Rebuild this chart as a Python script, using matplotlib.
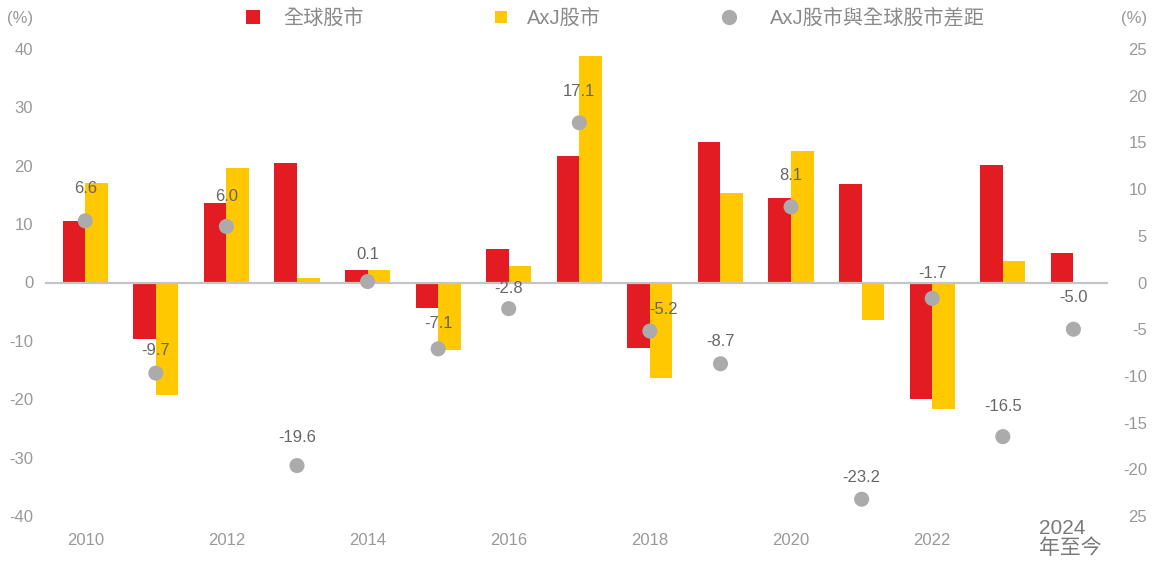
import matplotlib
matplotlib.use("Agg")
import matplotlib.pyplot as plt
from matplotlib.lines import Line2D
import numpy as np

plt.rcParams['font.family'] = ['Liberation Sans', 'Noto Sans CJK TC']

# annual returns (%), 2024 is year to date
years = np.arange(2010, 2025)
global_eq = [10.5, -9.6, 13.6, 20.4, 2.1, -4.4, 5.7, 21.7, -11.2, 24.1, 14.4, 16.9, -19.9, 20.2, 5.1]
axj_eq = [17.1, -19.3, 19.6, 0.8, 2.2, -11.5, 2.9, 38.8, -16.4, 15.4, 22.5, -6.4, -21.6, 3.7, 0.1]
gap = [6.6, -9.7, 6.0, -19.6, 0.1, -7.1, -2.8, 17.1, -5.2, -8.7, 8.1, -23.2, -1.7, -16.5, -5.0]

xtick_years = [2010, 2012, 2014, 2016, 2018, 2020, 2022]
left_ticks = [-40, -30, -20, -10, 0, 10, 20, 30, 40]
right_ticks = [-25, -20, -15, -10, -5, 0, 5, 10, 15, 20, 25]
right_tick_labels = ['25', '-20', '-15', '-10', '-5', '0', '5', '10', '15', '20', '25']

legend_labels = ['全球股市', 'AxJ股市', 'AxJ股市與全球股市差距']

RED = '#E31B23'
YELLOW = '#FFC800'
DOT = '#ABABAB'
TICK = '#999999'

# label offsets in pixels relative to each dot
label_dx = [0, 0, 0, 0, 0, 0, 0, 0, 14, 0, 0, 0, 0, 0, 0]
label_dy = [32, 23, 30, 28, 27, 25, 20, 31, 22, 22, 31, 22, 25, 30, 32]

fig = plt.figure(figsize=(11.56, 5.61), dpi=100)
ax = fig.add_axes([45 / 1156, 45 / 561, 1063 / 1156, 467 / 561])
ax2 = ax.twinx()

w = 0.32
ax.bar(years - w / 2, global_eq, w, color=RED, zorder=2)
ax.bar(years + w / 2, axj_eq, w, color=YELLOW, zorder=2)
ax.axhline(0, color='#C4C4C4', lw=1.6, zorder=3)

ax.set_xlim(2009.43, 2024.49)
ax.set_ylim(-40, 40)
ax2.set_ylim(-25, 25)

ax2.scatter(years, gap, s=118, color=DOT, edgecolors='none', zorder=4)
for x, v, dx, dy in zip(years, gap, label_dx, label_dy):
    ax2.annotate(f"{v:.1f}", (x, v), xytext=(dx * 0.72, dy * 0.72),
                 textcoords='offset points', ha='center', va='center',
                 fontsize=12, color='#666666')

ax.set_xticks(xtick_years)
ax.set_xticklabels([str(y) for y in xtick_years])
ax.set_yticks(left_ticks)
ax.set_yticklabels([str(t) for t in left_ticks])
ax2.set_yticks(right_ticks)
ax2.set_yticklabels(right_tick_labels)

ax.tick_params(axis='x', length=0, pad=12, labelsize=12, labelcolor=TICK)
ax.tick_params(axis='y', length=0, pad=8.5, labelsize=12, labelcolor=TICK)
ax2.tick_params(axis='y', length=0, pad=28, labelsize=12, labelcolor=TICK)
for lab in ax2.get_yticklabels():
    lab.set_horizontalalignment('right')

for a in (ax, ax2):
    for s in a.spines.values():
        s.set_visible(False)

# year-to-date label for the last group
ax.annotate("2024\n年至今", (2024, 0), xycoords=('data', 'axes fraction'),
            xytext=(-2, -2), textcoords='offset points', ha='center', va='top',
            multialignment='left', fontsize=15, color='#7a7a7a', linespacing=1.05)

# unit labels
fig.text(7 / 1156, 1 - 19 / 561, '(%)', ha='left', va='center', fontsize=12, color=TICK)
fig.text(1147 / 1156, 1 - 19 / 561, '(%)', ha='right', va='center', fontsize=12, color=TICK)

# legend across the top
ly = 1 - 17 / 561
markers = [('s', RED, 253, 9.5), ('s', YELLOW, 501, 8.5), ('o', DOT, 729, 11)]
text_x = [283, 527, 770]
for (m, c, mx, ms), tx, lab in zip(markers, text_x, legend_labels):
    fig.add_artist(Line2D([mx / 1156], [ly], transform=fig.transFigure, marker=m,
                          markersize=ms, color=c, markeredgewidth=0, linestyle='none'))
    fig.text(tx / 1156, 1 - 18 / 561, lab, ha='left', va='center', fontsize=14.5, color='#8a8a8a')

fig.savefig('out.png', dpi=100)
